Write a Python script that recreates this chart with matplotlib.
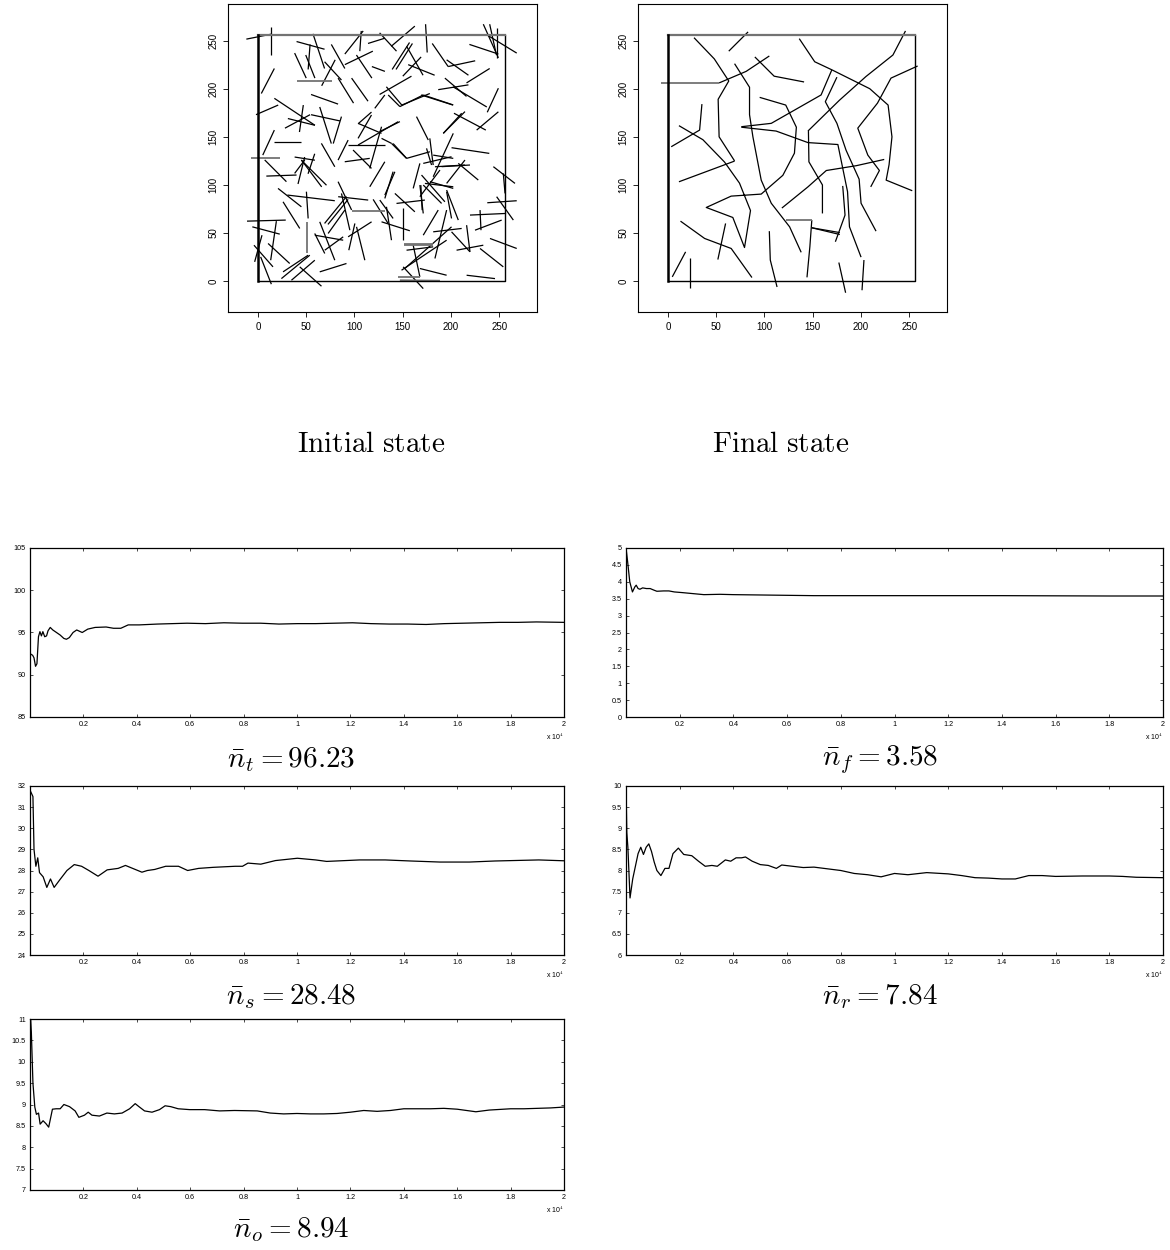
import matplotlib
matplotlib.use("Agg")
import matplotlib.pyplot as plt
from matplotlib.collections import LineCollection

plt.rcParams["mathtext.fontset"] = "cm"
plt.rcParams["font.family"] = ["Liberation Sans", "DejaVu Sans"]

# ---- domain box of the simulation (0..256)
BOX = 256
state_ticks = [0, 50, 100, 150, 200, 250]

# ---- initial state: segments (x0, y0, x1, y1)
init_segs = [
    (-12, 251.5, 14, 256.7), (14, 263.6, 14, 234.5), (40, 249, 69, 241), (38, 237, 50, 211),
    (54, 246, 52, 220), (57, 257, 69, 221), (49.5, 235, 59, 211), (76, 246, 90, 221),
    (66, 203, 80, 230), (69, 228, 86.5, 209), (90, 236, 109, 260), (107, 260, 105.5, 239),
    (90, 225, 119, 239), (102, 235, 118, 211), (83, 211, 99, 185), (97, 211, 114, 187),
    (114, 247, 131.5, 252.5), (118, 223, 131.5, 218), (3.5, 195, 17, 221), (55, 194, 83, 184),
    (-2, 173, 21, 183), (17, 190, 59, 162), (47, 183, 43, 155), (28, 159, 54, 173),
    (31, 169, 59, 162), (55, 173, 85, 166.5), (64, 181, 76, 143), (86.5, 171, 78, 143),
    (17, 157, 5, 131), (17, 145, 45, 145), (45, 125.7, 71, 99.7), (38, 129, 59, 125.7),
    (48.4, 129, 41.5, 101), (51.9, 111.6, 58.8, 132.4), (65.7, 143.2, 79.6, 118.9),
    (83, 125.8, 93.4, 146.6),
    # centre of the box
    (121, 179.6, 131.4, 193.5), (134.9, 193.5, 147, 181.4), (147, 181.4, 171.2, 193.5),
    (171.2, 193.5, 202.3, 183.1), (103.7, 164, 128, 153.6), (117.6, 172.7, 103.7, 148.4),
    (103.7, 141.5, 145.2, 165.7), (93.4, 141.5, 131.4, 141.5), (89.9, 124.1, 115.8, 127.6),
    (128, 160.5, 115.8, 117.2), (98.5, 136.3, 117.6, 117.2), (128, 148.4, 138.3, 143.2),
    (138.3, 143.2, 153.9, 127.6), (153.9, 127.6, 178.1, 134.5), (115.8, 98.1, 131.4, 124.1),
    (131.4, 89.4, 141.8, 113.7), (164.2, 171, 176.4, 146.7), (191.9, 153.6, 214.4, 176.2),
    (174.6, 138, 179.8, 120.7), (171.2, 122.4, 200.5, 129.3), (183.3, 118.9, 214.4, 120.7),
    (181.5, 108.5, 202.3, 153.6), (160.8, 96.4, 167.7, 122.4), (169.4, 110.3, 193.6, 82.5),
    (172.9, 101.6, 202.3, 98.1), (168.7, 99.8, 170.1, 73.8), (119.3, 85, 134.9, 59.9),
    (195.4, 92.9, 200.5, 65.2), (103.8, 163.6, 117.6, 175.7),
    # top right
    (126, 258, 143.5, 239), (138, 244, 162.5, 265), (139, 220, 157, 248), (143, 220, 160, 247),
    (154, 244, 171, 214), (155.6, 225, 183, 214), (150, 213, 169, 233), (126, 194, 159, 213),
    (133, 202, 149, 183), (149, 183, 178, 195), (169, 193.5, 202, 183), (173.6, 267, 175.3, 237.6),
    (180.5, 247, 197, 223), (195.4, 230, 218, 214), (197, 223, 225, 229), (193.6, 211, 216, 192),
    (186.7, 199, 218, 204), (216, 206, 240, 221), (202, 202, 237, 181), (237.5, 175.5, 249, 200.5),
    (219, 246, 249, 236), (233.4, 267, 249, 232), (240, 267, 247, 235), (237, 256, 268, 237),
    (248, 263, 248, 232), (203, 174.5, 236, 157), (226.5, 157, 249, 176),
    (192, 153.6, 211, 174.5), (200.5, 138.7, 239.6, 132.8), (126, 155.4, 147, 165.8),
    (140, 143, 154, 127.6), (178, 148.4, 181.5, 120.7), (181.5, 131, 202.3, 127.6),
    # bottom left
    (7, 126, 29.5, 103.4), (8.7, 109.2, 40, 110.3), (20.8, 96.4, 45, 77.3), (26, 82.5, 43.3, 54.8),
    (30.5, 89.5, 79.6, 83.6), (50.2, 93, 52, 65.2), (38, 112, 48.5, 126), (45, 126, 66, 98),
    (64, 61.7, 79.6, 21.8), (58.9, 47.8, 88.3, 42.6), (69, 60, 91.7, 88), (72.5, 59, 93.4, 85),
    (83, 103.4, 97, 74), (72.7, 49.6, 90, 73.9), (69.2, 32.2, 88.3, 46.1), (64, 9.7, 91.7, 18.4),
    (26, 9.7, 52, 27), (24.3, 2.7, 53.7, 27), (34.7, 1, 58.9, 21.8), (43.3, 14.9, 65.8, -5.2),
    (-11.3, 62.4, 28.8, 63.5), (-5.8, 56.5, 22.6, 48.9), (19.1, 62.4, 13.2, 21.8),
    (4.2, 47.8, -3.4, 20.1), (-4.1, 37.4, 15.6, 14.9), (2.8, 25.3, 13.9, -3.1),
    (10.5, 39.2, 32.9, 18.4), (93.4, 46.1, 117.7, 61.7), (102.1, 56.5, 110.7, 21.8),
    (100.4, 60, 94.1, 32.2), (83.1, 87.8, 114.2, 84.3), (86.5, 91.2, 95.2, 53),
    (58.8, 49.6, 69.2, 28.8),
    # bottom right
    (126.2, 84.3, 140, 65.2), (140, 113.8, 131.4, 86), (128, 61.7, 157.3, 52.4),
    (133.1, 77.3, 138.3, 42.6), (150.4, 75.6, 150.4, 42.6), (141.8, 91.2, 162.5, 72.1),
    (143.5, 80.8, 172.9, 84.3), (167.7, 99.9, 171.2, 70.4),
    (167.7, 87.8, 188.5, 115.5), (171.2, 99.9, 190.2, 80.8), (178.1, 103.4, 202.3, 96.4),
    (171.2, 47.8, 186.7, 73.9), (190.2, 119, 219.6, 120.7), (195.4, 101.6, 214.4, 125.9),
    (207.5, 122.4, 228.2, 105.1), (243.8, 119, 266.2, 101.6), (237.5, 81.5, 268, 83.6),
    (247.2, 87.8, 264.5, 63.5), (254.1, 112, 255.9, 91.2), (219.6, 68.7, 257, 70.4),
    (230, 73.9, 231, 53), (224.8, 53, 252.4, 63.5), (240.3, 44.4, 268, 34), (230, 34, 254.1, 14.9),
    (216.1, 58.2, 219.6, 30.5), (205.7, 32.2, 233.4, 37.4), (195.4, 94.7, 207.5, 63.5),
    (195.4, 73.9, 183.3, 23.6), (200.5, 51.3, 219.6, 30.5), (181.5, 51.3, 211, 54.8),
    (153.9, 32.2, 181.5, 35.7), (152.1, 13.2, 200.5, 56.5), (148.7, 11.4, 195.4, 42.6),
    (160.8, 37.4, 167.7, 4.5), (167.7, 13.2, 195.4, 6.2), (150.4, 14.9, 171.2, -7.7),
    (216.1, 6.2, 245.5, 2.7),
]
init_gray = [
    (40, 208, 77, 208), (-7, 128, 23, 128), (51.3, 61.7, 51.3, 28.8), (97, 73.2, 131.5, 73.2),
    (151.1, 37.4, 181.5, 37.4), (151.1, 39, 181.5, 39), (145.2, 4.5, 167.7, 4.5), (147, 1, 188.5, 0.5),
]

# ---- final state: connected paths
final_paths = [
    [(53, 206), (81, 218), (105, 234)],
    [(27, 253), (48, 231), (63, 208), (52, 189), (53, 150), (69, 125)],
    [(63, 239), (83, 259)],
    [(69, 226), (84.5, 201.5), (84.5, 173), (88, 150), (96.6, 105), (107, 81), (126, 56.5), (138, 30)],
    [(90, 233), (110, 213), (141, 207)],
    [(95, 191), (122, 183), (133, 160), (131, 133), (119, 110), (96.6, 90.5), (65.5, 88.4),
     (39.7, 76.6), (67.2, 66.2), (79.3, 35), (85.5, 73.4), (74.1, 101.9), (58.6, 123.8),
     (36.2, 147), (11.4, 161.6)],
    [(76, 160.5), (107, 164), (158.6, 193.5), (169.7, 219.5)],
    [(76, 160), (112, 156), (145, 144), (176, 142), (186, 93), (188, 56.5), (200, 25)],
    [(136, 252), (152, 228), (170, 219.5), (209, 200), (228, 183), (232, 150), (229, 121),
     (226, 105), (253, 94)],
    [(175, 212), (163, 186.5), (175, 164), (184.5, 136), (198, 106), (200, 81), (215.5, 52)],
    [(145.5, 156), (146, 124), (160, 100), (160, 70.4)],
    [(118, 76), (145, 98), (164, 115), (195, 120), (224, 126.5)],
    [(145, 156), (177.6, 188), (205, 212.6), (233, 235), (246, 260)],
    [(258.6, 223.6), (231, 211), (217, 185), (196.6, 159), (207, 131), (219, 115), (210, 98)],
    [(3.4, 139.7), (32.8, 157), (35.2, 184)],
    [(11.4, 103.3), (69, 124.8)],
    [(13, 62.4), (38, 44.4), (65.5, 34), (87, 3.8)],
    [(51.7, 22.5), (59.7, 60)],
    [(4.5, 4.5), (18.3, 30.5)],
    [(22.4, 24.3), (22.4, -6.6)],
    [(105, 52), (106, 22), (113, -6)],
    [(149, 63.5), (147, 36), (144, 4)],
    [(149, 55.5), (178, 48.5)],
    [(149, 55.5), (178, 50.5)],
    [(181, 99), (183.4, 68.7), (173.4, 41)],
    [(177, 19.4), (184, -12)],
    [(203, 22), (201, -9.4)],
]
final_gray = [
    [(-7, 206), (53, 206)],
    [(122.4, 63.5), (149, 63.5)],
]

# ---- running averages over iterations
it_t = [1, 100, 150, 207, 260, 317, 372, 427, 482, 551, 620, 675, 758, 854, 992, 1129, 1267, 1364,
        1474, 1612, 1749, 1956, 2163, 2438, 2851, 3127, 3402, 3678, 4091, 4780, 5331, 5882, 6570,
        7259, 7948, 8636, 9325, 10014, 10702, 11391, 12080, 12769, 13457, 14146, 14835, 15523,
        16212, 16901, 17590, 18278, 18967, 20000]
n_t = [92.5, 92.3, 92.0, 91.0, 91.3, 94.5, 95.1, 94.6, 95.1, 94.5, 94.6, 95.2, 95.6, 95.3, 95.0,
       94.7, 94.3, 94.2, 94.4, 95.0, 95.3, 95.0, 95.4, 95.6, 95.65, 95.5, 95.5, 95.9, 95.9, 96.0,
       96.05, 96.1, 96.05, 96.15, 96.1, 96.1, 96.0, 96.05, 96.05, 96.1, 96.15, 96.05, 96.0, 96.0,
       95.95, 96.05, 96.1, 96.15, 96.2, 96.2, 96.25, 96.2]

it_f = [1, 60, 140, 240, 330, 380, 450, 520, 620, 760, 900, 1050, 1150, 1400, 1600, 1800, 2100,
        2500, 2900, 3500, 4000, 5000, 6000, 7000, 8000, 10000, 12000, 14000, 16000, 18000, 20000]
n_f = [5.0, 4.6, 4.0, 3.7, 3.85, 3.9, 3.8, 3.78, 3.82, 3.8, 3.8, 3.75, 3.72, 3.73, 3.73, 3.7, 3.68,
       3.65, 3.62, 3.63, 3.62, 3.61, 3.6, 3.59, 3.59, 3.59, 3.59, 3.59, 3.585, 3.58, 3.58]

it_s = [1, 110, 150, 220, 290, 356, 493, 630, 767, 904, 1110, 1384, 1658, 1932, 2205, 2548, 2890,
        3301, 3575, 4192, 4397, 4671, 5082, 5562, 5904, 6315, 6863, 7685, 7959, 8164, 8644, 9192,
        10014, 10699, 11110, 12342, 13301, 14260, 15356, 16452, 17411, 19055, 20000]
n_s = [31.8, 31.5, 29.0, 28.2, 28.6, 27.9, 27.7, 27.2, 27.6, 27.2, 27.55, 28.0, 28.28, 28.2, 28.0,
       27.73, 28.03, 28.1, 28.24, 27.92, 28.0, 28.05, 28.2, 28.2, 28.0, 28.1, 28.15, 28.2, 28.2,
       28.35, 28.3, 28.47, 28.58, 28.5, 28.43, 28.5, 28.5, 28.45, 28.4, 28.4, 28.45, 28.5, 28.46]

it_r = [1, 30, 70, 150, 250, 350, 450, 550, 650, 750, 850, 950, 1050, 1150, 1300, 1450, 1600, 1750,
        1950, 2150, 2450, 2700, 2950, 3200, 3400, 3700, 3900, 4100, 4300, 4450, 4700, 5000, 5300,
        5600, 5800, 6200, 6600, 7000, 7500, 8000, 8500, 9000, 9500, 10000, 10500, 11200, 12000,
        12500, 13000, 13500, 14000, 14500, 15000, 15500, 16000, 17000, 18000, 18500, 19000, 20000]
n_r = [10.0, 8.9, 8.55, 7.35, 7.8, 8.1, 8.4, 8.55, 8.38, 8.55, 8.63, 8.45, 8.2, 8.0, 7.88, 8.05,
       8.05, 8.4, 8.53, 8.38, 8.35, 8.22, 8.1, 8.12, 8.1, 8.25, 8.22, 8.3, 8.3, 8.32, 8.22, 8.14,
       8.12, 8.05, 8.13, 8.1, 8.07, 8.08, 8.04, 8.0, 7.93, 7.9, 7.85, 7.93, 7.9, 7.95, 7.92, 7.88,
       7.83, 7.82, 7.8, 7.8, 7.88, 7.88, 7.86, 7.87, 7.87, 7.86, 7.84, 7.83]

it_o = [1, 20, 50, 110, 180, 240, 320, 380, 490, 600, 700, 840, 980, 1130, 1270, 1480, 1690, 1830,
        2040, 2180, 2320, 2600, 2880, 3160, 3450, 3730, 3940, 4080, 4290, 4570, 4850, 5060, 5270,
        5550, 5980, 6540, 7100, 7660, 8510, 9000, 9500, 10000, 10500, 11000, 11500, 12000, 12500,
        13000, 13500, 14000, 14500, 15000, 15500, 16000, 16700, 17200, 18000, 18500, 19000, 19500,
        20000]
n_o = [10.2, 11.0, 10.7, 9.5, 8.94, 8.77, 8.8, 8.54, 8.62, 8.55, 8.47, 8.89, 8.9, 8.9, 9.0, 8.95,
       8.85, 8.7, 8.75, 8.82, 8.75, 8.73, 8.8, 8.78, 8.8, 8.9, 9.02, 8.95, 8.85, 8.82, 8.88, 8.97,
       8.95, 8.9, 8.88, 8.88, 8.85, 8.86, 8.85, 8.8, 8.78, 8.79, 8.78, 8.78, 8.79, 8.82, 8.86, 8.84,
       8.86, 8.9, 8.9, 8.9, 8.91, 8.89, 8.83, 8.87, 8.9, 8.9, 8.91, 8.92, 8.94]

x_ticks = [2000, 4000, 6000, 8000, 10000, 12000, 14000, 16000, 18000, 20000]
x_ticklabels = ["0.2", "0.4", "0.6", "0.8", "1", "1.2", "1.4", "1.6", "1.8", "2"]

series = [
    (it_t, n_t, (85, 105), [85, 90, 95, 100, 105], ["85", "90", "95", "100", "105"],
     r"$\bar{n}_t = 96.23$"),
    (it_f, n_f, (0, 5), [0, 0.5, 1, 1.5, 2, 2.5, 3, 3.5, 4, 4.5, 5],
     ["0", "0.5", "1", "1.5", "2", "2.5", "3", "3.5", "4", "4.5", "5"], r"$\bar{n}_f = 3.58$"),
    (it_s, n_s, (24, 32), [24, 25, 26, 27, 28, 29, 30, 31, 32],
     ["24", "25", "26", "27", "28", "29", "30", "31", "32"], r"$\bar{n}_s = 28.48$"),
    (it_r, n_r, (6, 10), [6, 6.5, 7, 7.5, 8, 8.5, 9, 9.5, 10],
     ["6", "6.5", "7", "7.5", "8", "8.5", "9", "9.5", "10"], r"$\bar{n}_r = 7.84$"),
    (it_o, n_o, (7, 11), [7, 7.5, 8, 8.5, 9, 9.5, 10, 10.5, 11],
     ["7", "7.5", "8", "8.5", "9", "9.5", "10", "10.5", "11"], r"$\bar{n}_o = 8.94$"),
]

W, H = 1170, 1250
fig = plt.figure(figsize=(W / 100, H / 100), dpi=100)


def px_axes(left, top, right, bottom):
    return fig.add_axes([left / W, 1 - bottom / H, (right - left) / W, (bottom - top) / H])


def draw_state(ax, lines, gray_lines):
    ax.add_collection(LineCollection(lines, colors="black", linewidths=0.9))
    ax.add_collection(LineCollection(gray_lines, colors="0.45", linewidths=1.3))
    ax.plot([0, BOX, BOX], [0, 0, BOX], color="black", lw=1.0)
    ax.plot([0, BOX], [BOX, BOX], color="0.45", lw=1.6)
    ax.plot([0, 0], [0, BOX], color="black", lw=1.8)
    ax.set_xlim(-31, 289)
    ax.set_ylim(-32, 288)
    ax.set_xticks(state_ticks)
    ax.set_yticks(state_ticks)
    ax.tick_params(direction="out", length=3.6, width=0.6, labelsize=7, pad=3.5)
    for lab in ax.get_yticklabels():
        lab.set_rotation(90)
        lab.set_va("center")
    for sp in ax.spines.values():
        sp.set_linewidth(0.8)


ax_init = px_axes(228, 4, 537, 312)
draw_state(ax_init, [[(a, b), (c, d)] for a, b, c, d in init_segs],
           [[(a, b), (c, d)] for a, b, c, d in init_gray])
ax_final = px_axes(638, 4, 947, 312)
draw_state(ax_final, final_paths, final_gray)

fig.text(371 / W, 1 - 444 / H, r"$\mathrm{Initial\ state}$", ha="center", va="center", fontsize=21)
fig.text(781 / W, 1 - 444 / H, r"$\mathrm{Final\ state}$", ha="center", va="center", fontsize=21)

boxes = [(30, 548, 564, 717), (626, 548, 1163, 717), (30, 786, 564, 955),
         (626, 786, 1163, 955), (30, 1019, 564, 1190)]
captions = [(291, 760), (880, 760), (291, 997), (880, 997), (291, 1230)]

for (it, val, ylim, yt, ytl, cap), box, (cx, cy) in zip(series, boxes, captions):
    ax = px_axes(*box)
    ax.plot(it, val, color="black", lw=0.9)
    ax.set_xlim(0, 20000)
    ax.set_ylim(*ylim)
    ax.set_xticks(x_ticks)
    ax.set_xticklabels(x_ticklabels)
    ax.set_yticks(yt)
    ax.set_yticklabels(ytl)
    ax.tick_params(direction="in", length=2.5, width=0.5, labelsize=5.2, pad=3,
                   top=True, right=True)
    for sp in ax.spines.values():
        sp.set_linewidth(0.9)
    ax.text(1.0, -0.085, r"x 10$^4$", transform=ax.transAxes, ha="right", va="top", fontsize=5)
    fig.text(cx / W, 1 - cy / H, cap, ha="center", va="center", fontsize=21)

fig.savefig("out.png", dpi=100)
